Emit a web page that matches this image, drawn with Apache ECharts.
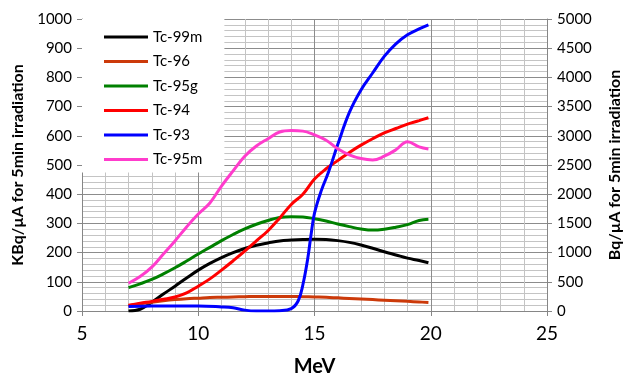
<!DOCTYPE html>
<html>
<head>
<meta charset="utf-8">
<script src="https://cdn.jsdelivr.net/npm/echarts@6/dist/echarts.min.js"></script>
<style>
  html, body { margin: 0; padding: 0; background: #fff; }
  #chart { width: 623px; height: 374px; }
</style>
</head>
<body>
<div id="chart"></div>
<script>
// energies (MeV) shared by most curves
var energy = [7, 7.5, 8, 8.5, 9, 9.5, 10, 10.5, 11, 11.5, 12, 12.5, 13, 13.5, 14, 14.5, 15, 15.5, 16, 16.5, 17, 17.5, 18, 18.5, 19, 19.5, 19.9];

// KBq/uA values, left axis
var tc99m = [0, 6, 30, 58, 85, 113, 140, 163, 183, 200, 214, 225, 233, 240, 243, 245, 246, 245, 241, 235, 226, 215, 203, 192, 181, 173, 165];
var tc96 = [18, 24, 30, 35, 39, 42, 44, 46, 47, 48, 49, 50, 50, 50, 50, 49, 48, 47, 45, 43, 41, 39, 37, 35, 33, 31, 29];
var tc95g = [80, 93, 108, 127, 148, 171, 195, 218, 241, 262, 281, 297, 310, 320, 323, 322, 316, 308, 298, 289, 281, 277, 280, 287, 296, 310, 314];
var tc94 = [20, 27, 33, 40, 48, 62, 85, 110, 140, 172, 205, 240, 275, 318, 365, 400, 452, 487, 515, 543, 568, 590, 610, 625, 640, 652, 662];
var tc95m = [95, 118, 150, 195, 240, 288, 332, 370, 428, 480, 530, 565, 590, 613, 618, 616, 603, 585, 556, 535, 522, 517, 530, 552, 580, 562, 555];

// Tc-93 has its own energy points, plotted on the right axis (Bq/uA)
var energy93 = [7, 8, 9, 10, 11, 11.5, 12, 12.5, 13, 13.5, 14, 14.3, 14.5, 14.7, 14.85, 15, 15.3, 15.6, 16, 16.5, 17, 17.5, 18, 18.5, 19, 19.5, 19.9];
var tc93 = [75, 85, 85, 85, 70, 55, 15, 0, 0, 5, 40, 175, 450, 875, 1300, 1675, 2070, 2375, 2850, 3400, 3785, 4075, 4360, 4575, 4730, 4830, 4900];

var names = ['Tc-99m', 'Tc-96', 'Tc-95g', 'Tc-94', 'Tc-93', 'Tc-95m'];
var colors = ['#000000', '#cc3a0a', '#008000', '#ff0000', '#0000ff', '#ff3ccc'];

function pairs(xs, ys) {
    return xs.map(function (x, i) { return [x, ys[i]]; });
}

function lineSeries(name, data, axisIndex, color) {
    return {
        name: name,
        type: 'line',
        yAxisIndex: axisIndex,
        data: data,
        smooth: 0.4,
        symbol: 'none',
        showSymbol: false,
        lineStyle: { color: color, width: 3 },
        itemStyle: { color: color }
    };
}

var font = 'Lato, "Open Sans", sans-serif';
var axisGray = '#868686';
var plain = function (v) { return String(v); };

var chart = echarts.init(document.getElementById('chart'));
chart.setOption({
    animation: false,
    textStyle: { fontFamily: font },
    grid: { left: 82, right: 76, top: 19, bottom: 63, outerBoundsMode: 'none', containLabel: false },
    legend: {
        orient: 'vertical',
        left: 82,
        top: 19,
        padding: [9, 22, 4, 22],
        backgroundColor: '#ffffff',
        icon: 'rect',
        itemWidth: 44,
        itemHeight: 3,
        itemGap: 6.5,
        data: names,
        textStyle: { fontFamily: font, fontSize: 15, color: '#000', lineHeight: 18 }
    },
    xAxis: {
        type: 'value',
        min: 5,
        max: 25,
        interval: 5,
        name: 'MeV',
        nameLocation: 'middle',
        nameGap: 46,
        nameTextStyle: { fontFamily: font, fontSize: 20, fontWeight: 'bold', color: '#000' },
        axisLine: { onZero: false, lineStyle: { color: axisGray } },
        axisTick: { length: 5, lineStyle: { color: axisGray } },
        axisLabel: { fontSize: 19, color: '#000', margin: 13, formatter: plain },
        splitLine: { show: true, lineStyle: { color: '#8c8c8c' } },
        minorTick: { show: false, splitNumber: 5 },
        minorSplitLine: { show: true, lineStyle: { color: '#c4c4c4' } }
    },
    yAxis: [{
        type: 'value',
        min: 0,
        max: 1000,
        interval: 100,
        name: 'KBq/µA for 5min irradiation',
        nameLocation: 'middle',
        nameGap: 53,
        nameTextStyle: { fontFamily: font, fontSize: 16, fontWeight: 'bold', color: '#000' },
        axisLine: { show: true, lineStyle: { color: axisGray } },
        axisTick: { show: true, length: 5, lineStyle: { color: axisGray } },
        axisLabel: { fontSize: 15, color: '#000', margin: 10, formatter: plain },
        splitLine: { show: true, lineStyle: { color: '#8c8c8c' } },
        minorTick: { show: false, splitNumber: 5 },
        minorSplitLine: { show: true, lineStyle: { color: '#c4c4c4' } }
    }, {
        type: 'value',
        min: 0,
        max: 5000,
        interval: 500,
        position: 'right',
        name: 'Bq/µA for 5min irradiation',
        nameLocation: 'middle',
        nameGap: 60,
        nameTextStyle: { fontFamily: font, fontSize: 16, fontWeight: 'bold', color: '#000' },
        axisLine: { show: true, lineStyle: { color: axisGray } },
        axisTick: { show: true, length: 5, lineStyle: { color: axisGray } },
        axisLabel: { fontSize: 15, color: '#000', margin: 10, formatter: plain },
        splitLine: { show: false }
    }],
    series: [
        lineSeries('Tc-99m', pairs(energy, tc99m), 0, colors[0]),
        lineSeries('Tc-96', pairs(energy, tc96), 0, colors[1]),
        lineSeries('Tc-95g', pairs(energy, tc95g), 0, colors[2]),
        lineSeries('Tc-94', pairs(energy, tc94), 0, colors[3]),
        lineSeries('Tc-93', pairs(energy93, tc93), 1, colors[4]),
        lineSeries('Tc-95m', pairs(energy, tc95m), 0, colors[5])
    ]
});
</script>
</body>
</html>
